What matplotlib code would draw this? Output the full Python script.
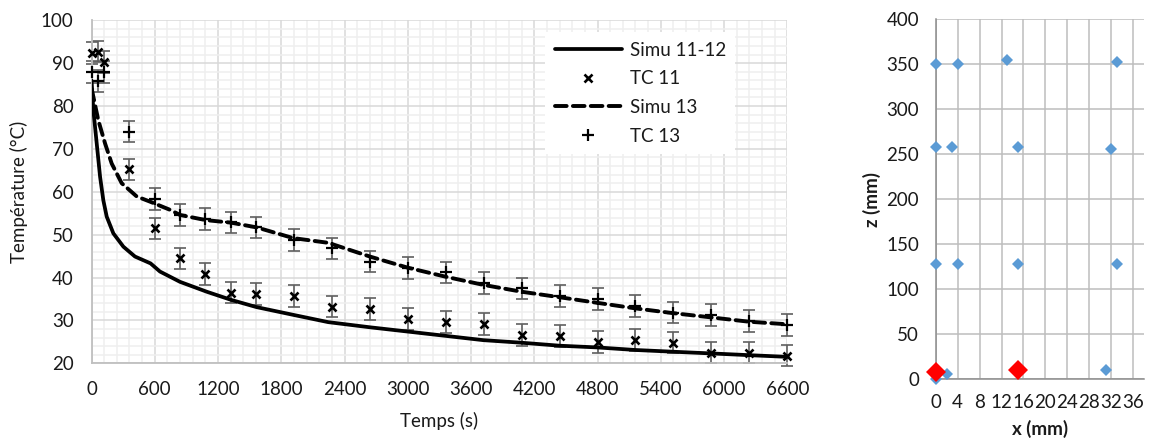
import numpy as np
import matplotlib
matplotlib.use('Agg')
import matplotlib.pyplot as plt
from matplotlib.ticker import MultipleLocator

plt.rcParams['font.family'] = ['Lato', 'DejaVu Sans']

# simulated curves (time in s, temperature in degC)
simu1112_t = [0, 17, 49, 81, 112, 144, 207, 302, 412, 523, 560, 649, 839, 1092, 1323,
              1566, 1913, 2245, 2640, 3000, 3358, 3715, 4078, 4442, 4799, 5162, 5516,
              5880, 6236, 6600]
simu1112_T = [86.0, 79.1, 71.3, 63.5, 58.0, 54.2, 50.3, 47.2, 44.9, 43.7, 43.3, 41.4,
              39.0, 36.7, 34.8, 33.1, 31.3, 29.6, 28.4, 27.4, 26.4, 25.4, 24.8, 24.1,
              23.7, 23.1, 22.7, 22.3, 21.9, 21.5]

simu13_t = [0, 17, 64, 128, 191, 286, 429, 555, 744, 839, 1083, 1323, 1566, 1913, 2245,
            2640, 3000, 3358, 3715, 4078, 4442, 4799, 5162, 5516, 5880, 6236, 6600]
simu13_T = [84.0, 82.2, 76.7, 71.3, 66.6, 62.0, 58.9, 57.7, 55.8, 54.6, 53.4, 52.8, 51.7,
            49.2, 48.1, 44.9, 42.3, 40.2, 38.3, 36.7, 35.4, 34.1, 32.8, 31.7, 30.7, 29.7,
            29.1]

# thermocouple measurements
tc_t = [0, 60, 120, 360, 600, 840, 1080, 1320, 1560, 1920, 2280, 2640, 3000, 3360, 3720,
        4080, 4440, 4800, 5160, 5520, 5880, 6240, 6600]
tc11_T = [92.4, 92.7, 90.3, 65.2, 51.5, 44.5, 40.8, 36.5, 36.2, 35.7, 33.2, 32.7, 30.3,
          29.6, 29.2, 26.6, 26.4, 25.0, 25.4, 24.8, 22.5, 22.5, 21.8]
tc13_T = [87.9, 85.8, 87.9, 74.0, 58.3, 54.6, 53.7, 52.9, 51.7, 48.8, 46.8, 43.7, 42.2,
          41.2, 38.7, 37.5, 35.7, 35.0, 33.4, 31.8, 31.3, 29.9, 28.9]
tc_err = 2.5

# thermocouple positions (mm)
pos_x = [0, 4, 13, 33, 0, 3, 15, 32, 0, 4, 15, 33, 0, 2, 31]
pos_z = [350, 350, 355, 352, 258, 258, 258, 256, 128, 128, 128, 128, 0, 5, 10]
sel_x = [0, 15]
sel_z = [8, 10]

fig = plt.figure(figsize=(11.5, 4.41), dpi=100)

txt = '#1A1A1A'
fs = 13.5

# ---- left chart: temperature vs time
ax = fig.add_axes([0.0796, 0.1762, 0.605, 0.7778])
ax.set_xlim(0, 6600)
ax.set_ylim(20, 100)
ax.xaxis.set_major_locator(MultipleLocator(600))
ax.xaxis.set_minor_locator(MultipleLocator(120))
ax.yaxis.set_major_locator(MultipleLocator(10))
ax.yaxis.set_minor_locator(MultipleLocator(2))
ax.grid(which='minor', color='#EFEFEF', lw=1.1, zorder=0)
ax.grid(which='major', color='#D9D9D9', lw=1.1, zorder=0)
ax.set_axisbelow(True)
ax.tick_params(which='both', length=0)
ax.tick_params(axis='y', pad=13, labelsize=fs, labelcolor=txt)
ax.tick_params(axis='x', pad=13, labelsize=fs, labelcolor=txt)
for s in ['top', 'right']:
    ax.spines[s].set_visible(False)
for s in ['left', 'bottom']:
    ax.spines[s].set_color('#BFBFBF')
    ax.spines[s].set_linewidth(1.3)

ax.errorbar(tc_t, tc11_T, yerr=tc_err, fmt='none', ecolor='#5F5F5F', elinewidth=1.2,
            capsize=4.2, capthick=1.2, zorder=2, clip_on=False)
ax.errorbar(tc_t, tc13_T, yerr=tc_err, fmt='none', ecolor='#5F5F5F', elinewidth=1.2,
            capsize=4.2, capthick=1.2, zorder=2, clip_on=False)

ax.plot(simu1112_t, simu1112_T, color='black', lw=2.7, label='Simu 11-12', zorder=3,
        solid_capstyle='round')
ax.plot(tc_t, tc11_T, ls='none', marker='x', ms=5.5, mew=1.9, color='black',
        label='TC 11', zorder=4, clip_on=False)
ax.plot(simu13_t, simu13_T, color='black', lw=2.8, ls=(0, (3.0, 1.6)), label='Simu 13',
        zorder=3, dash_capstyle='round')
ax.plot(tc_t, tc13_T, ls='none', marker='+', ms=8, mew=1.6, color='black',
        label='TC 13', zorder=4, clip_on=False)

leg = ax.legend(loc='upper left', bbox_to_anchor=(0.652, 0.965), fontsize=fs,
                frameon=True, fancybox=False, edgecolor='none', facecolor='white',
                framealpha=1, handlelength=3.6, handletextpad=0.4, labelspacing=0.62,
                borderpad=0.5, borderaxespad=0)
for t in leg.get_texts():
    t.set_color(txt)

ax.set_xlabel('Temps (s)', fontsize=fs, color=txt, labelpad=10)
ax.set_ylabel('Température (°C)', fontsize=fs, color=txt, labelpad=9)

# ---- right chart: thermocouple positions
ax2 = fig.add_axes([0.8137, 0.1406, 0.1811, 0.8163])
ax2.set_xlim(0, 38)
ax2.set_ylim(0, 400)
ax2.xaxis.set_major_locator(MultipleLocator(4))
ax2.yaxis.set_major_locator(MultipleLocator(50))
ax2.grid(color='#BDBDBD', lw=1.1, zorder=0)
ax2.set_axisbelow(True)
ax2.tick_params(length=0, labelsize=fs, labelcolor=txt)
ax2.tick_params(axis='y', pad=12)
ax2.tick_params(axis='x', pad=11)
for s in ['top', 'right']:
    ax2.spines[s].set_visible(False)
for s in ['left', 'bottom']:
    ax2.spines[s].set_color('#8C8C8C')
    ax2.spines[s].set_linewidth(1.1)

ax2.plot(pos_x, pos_z, ls='none', marker='D', ms=5.8, mew=0, color='#5B9BD5',
         zorder=3, clip_on=False)
ax2.plot(sel_x, sel_z, ls='none', marker='D', ms=10.5, mew=0, color='#FF0000',
         zorder=4, clip_on=False)

ax2.set_xlabel('x (mm)', fontsize=fs, fontweight='bold', color=txt, labelpad=6)
ax2.set_ylabel('z (mm)', fontsize=fs, fontweight='bold', color=txt)
# the original label sits right on the "200" tick; nudged left so both stay readable
ax2.yaxis.set_label_coords(-0.265, 0.5)

fig.savefig('out.png', dpi=100)
